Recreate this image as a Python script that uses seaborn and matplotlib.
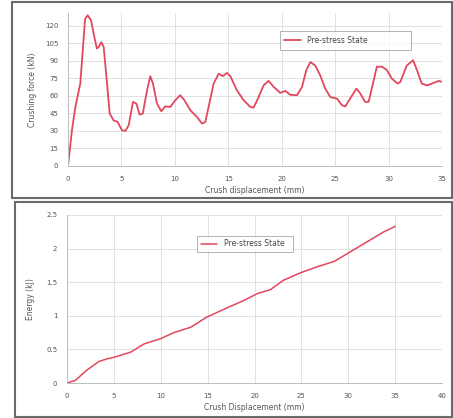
import matplotlib
matplotlib.use("Agg")
import matplotlib.pyplot as plt
import seaborn as sns
import pandas as pd
from matplotlib.patches import Rectangle

# ---- data ----
force_x = [0, 0.37, 0.69, 1.15, 1.6, 1.84, 2.15, 2.46, 2.7, 2.87, 3.12, 3.34, 3.6, 3.9,
           4.27, 4.65, 5.05, 5.37, 5.68, 6.08, 6.4, 6.7, 7.0, 7.4, 7.7, 7.95, 8.33, 8.73,
           9.1, 9.58, 10.04, 10.5, 10.9, 11.45, 12.07, 12.54, 12.85, 13.16, 13.63, 14.1,
           14.5, 14.88, 15.19, 15.8, 16.44, 17.06, 17.37, 17.84, 18.3, 18.77, 19.25, 19.87,
           20.34, 20.8, 21.43, 21.9, 22.3, 22.68, 23.14, 23.6, 24.07, 24.55, 25.17, 25.64,
           25.95, 26.4, 27.0, 27.36, 27.8, 28.13, 28.54, 28.9, 29.4, 29.85, 30.3, 30.85,
           31.1, 31.7, 32.3, 32.66, 33.1, 33.6, 34.07, 34.7, 35.0]
force_y = [0, 30.6, 50.6, 70.6, 126, 129, 125, 110.6, 100.6, 102, 106, 102, 76, 45,
           39, 37.7, 30.6, 30, 34.9, 54.9, 53.4, 44, 44.9, 64.9, 76.9, 70.6, 53.4, 46.9,
           51, 50.6, 56.3, 60.6, 56.3, 47.7, 42, 36.3, 37.7, 50.6, 70.6, 79,
           77, 79.7, 77, 64.9, 56.3, 50.6, 50, 59, 69, 72.9, 67.7, 62.6,
           64.3, 61, 60.6, 67.7, 82, 89, 86, 77.7, 66.3, 59, 57.7, 52,
           51, 57.7, 66.3, 62, 54.9, 54.9, 70.6, 85, 85, 82, 74.9, 70.6,
           72, 86, 90.6, 82, 70.6, 69, 70.6, 72.9, 72]

energy_x = [0, 0.9, 2.1, 3.4, 4.3, 5.2, 6.8, 8.2, 10, 11.4, 13.2, 14.9, 17.1, 18.9,
            20.3, 21.7, 23.1, 24.9, 26.7, 28.5, 30.2, 32, 33.8, 35]
energy_y = [0, 0.04, 0.19, 0.32, 0.36, 0.39, 0.46, 0.58, 0.66, 0.75, 0.83, 0.98, 1.12, 1.23,
            1.33, 1.39, 1.53, 1.64, 1.73, 1.81, 1.95, 2.1, 2.25, 2.33]

series_name = "Pre-stress State"
force_xticks = [0, 5, 10, 15, 20, 25, 30, 35]
force_yticks = [0, 15, 30, 45, 60, 75, 90, 105, 120]
energy_xticks = [0, 5, 10, 15, 20, 25, 30, 35, 40]
energy_yticks = [0, 0.5, 1, 1.5, 2, 2.5]
energy_yticklabels = ["0", "0.5", "1", "1.5", "2", "2.5"]

df_force = pd.DataFrame({"x": force_x, "y": force_y, "s": series_name})
df_energy = pd.DataFrame({"x": energy_x, "y": energy_y, "s": series_name})

sns.set_theme(style="white")
plt.rcParams['font.family'] = ['DejaVu Sans']

W, H = 453, 418
fig = plt.figure(figsize=(W / 100, H / 100), dpi=100)
fig.patch.set_facecolor("white")

line_color = "#e2475f"
text_color = "#555555"
grid_color = "#dcdcdc"


def px_rect(x0, y0, x1, y1):
    return [x0 / W, 1 - y1 / H, (x1 - x0) / W, (y1 - y0) / H]


# panel frames
for (x0, y0, x1, y1) in [(12, 2, 452, 198), (15, 202, 452, 417)]:
    fig.patches.append(Rectangle((x0 / W, 1 - y1 / H), (x1 - x0) / W, (y1 - y0) / H,
                                 transform=fig.transFigure, fill=False,
                                 edgecolor="#6a6a6a", linewidth=1.5))

ax1 = fig.add_axes(px_rect(68, 13, 442, 166))
ax2 = fig.add_axes(px_rect(67, 215, 442, 383))

sns.lineplot(data=df_force, x="x", y="y", hue="s", palette=[line_color],
             ax=ax1, linewidth=1.3)
sns.lineplot(data=df_energy, x="x", y="y", hue="s", palette=[line_color],
             ax=ax2, linewidth=1.1)

ax1.set_xlim(0, 35)
ax1.set_ylim(0, 131)
ax1.set_xticks(force_xticks)
ax1.set_yticks(force_yticks)
ax1.set_xlabel("Crush displacement (mm)", fontsize=5.5, color=text_color, labelpad=3)
ax1.set_ylabel("Crushing force (kN)", fontsize=5.5, color=text_color, labelpad=6)

ax2.set_xlim(0, 40)
ax2.set_ylim(0, 2.5)
ax2.set_xticks(energy_xticks)
ax2.set_yticks(energy_yticks)
ax2.set_yticklabels(energy_yticklabels)
ax2.set_xlabel("Crush Displacement (mm)", fontsize=5.5, color=text_color, labelpad=3)
ax2.set_ylabel("Energy (kJ)", fontsize=5.5, color=text_color, labelpad=8)

for ax in (ax1, ax2):
    ax.grid(True, color=grid_color, linewidth=0.6)
    ax.set_axisbelow(True)
    for side in ("top", "right"):
        ax.spines[side].set_visible(False)
    for side in ("left", "bottom"):
        ax.spines[side].set_color("#bdbdbd")
        ax.spines[side].set_linewidth(0.7)
    ax.tick_params(axis="both", labelsize=5, colors=text_color, length=2,
                   width=0.5, pad=5)
    ax.tick_params(axis="both", color="#bdbdbd")

leg1 = ax1.legend(loc="center", bbox_to_anchor=(0.556, 0.758, 0.372, 0.124),
                  mode="expand", fontsize=5.5, frameon=True, fancybox=False,
                  handlelength=2.2, borderpad=0.6)
leg2 = ax2.legend(loc="center", bbox_to_anchor=(0.336, 0.774, 0.277, 0.107),
                  mode="expand", fontsize=5.5, frameon=True, fancybox=False,
                  handlelength=2.2, borderpad=0.5)
for leg in (leg1, leg2):
    leg.get_frame().set_edgecolor("#a0a0a0")
    leg.get_frame().set_linewidth(0.7)
    for t in leg.get_texts():
        t.set_color("#444444")

fig.savefig("out.png", dpi=100)
